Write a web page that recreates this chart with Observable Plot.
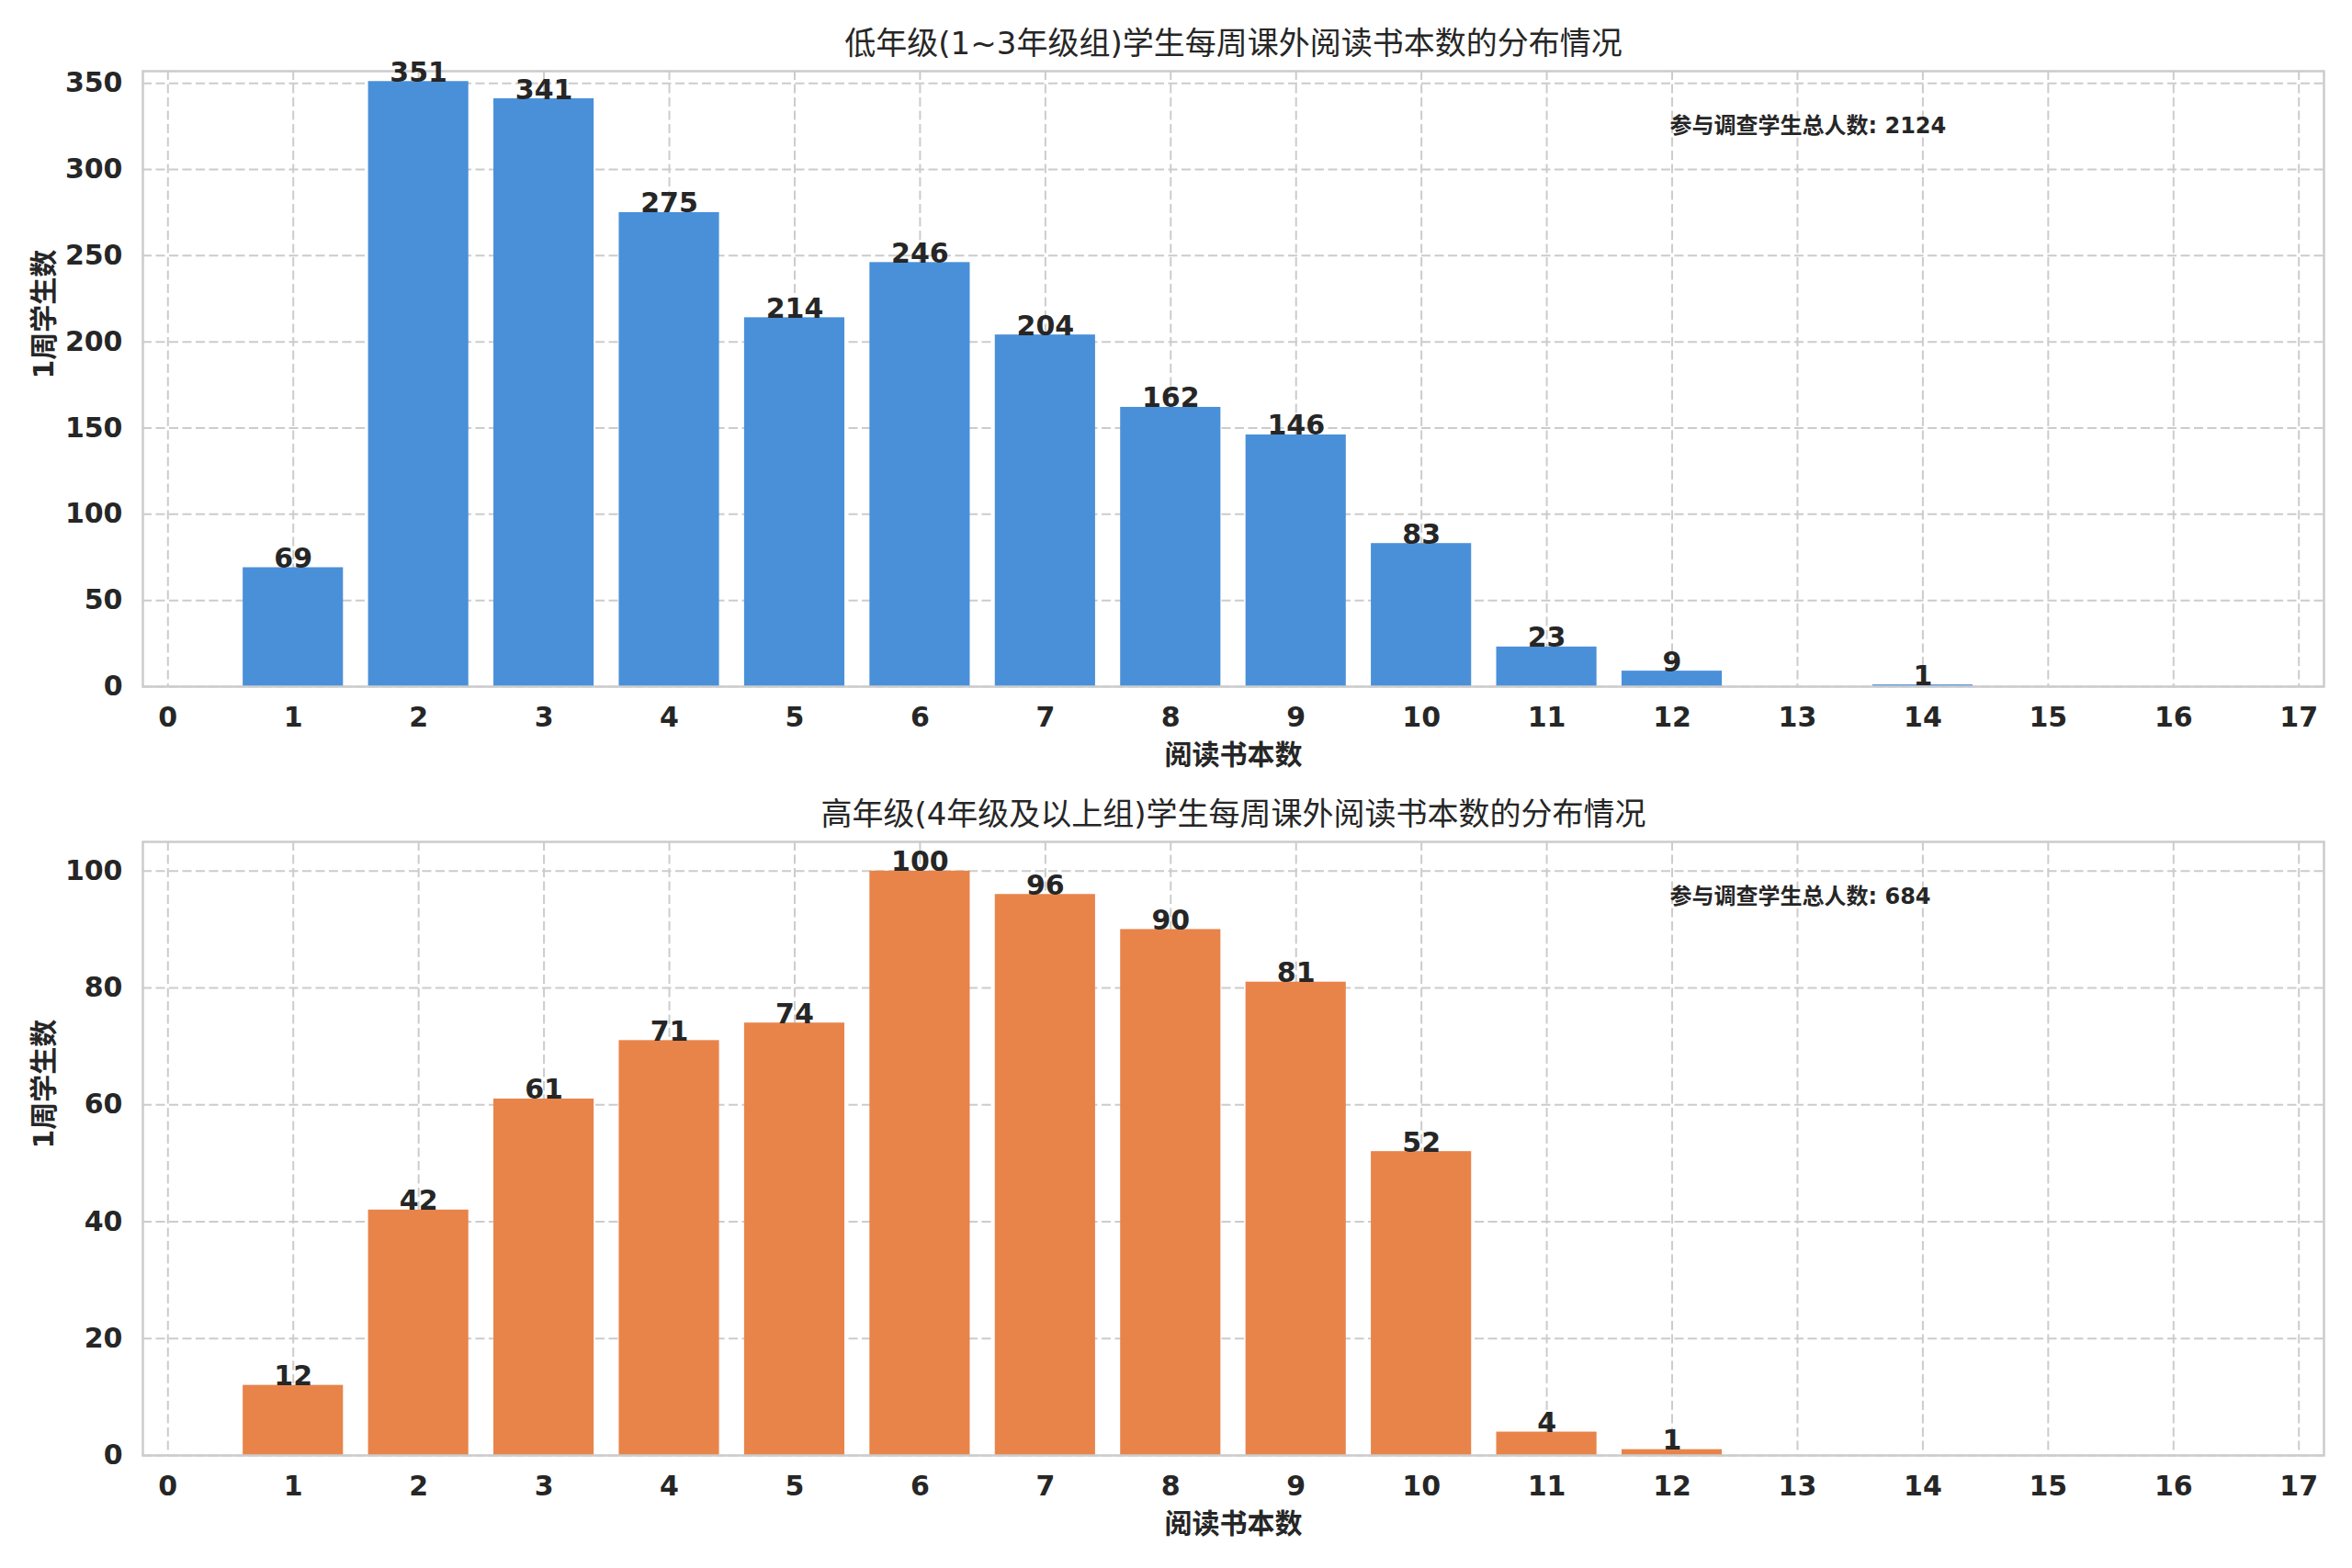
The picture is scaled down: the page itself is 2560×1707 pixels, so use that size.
<!DOCTYPE html>
<html><head><meta charset="utf-8">
<script src="https://cdn.jsdelivr.net/npm/d3@7"></script>
<script src="https://cdn.jsdelivr.net/npm/@observablehq/plot@0.6"></script>
<style>
body{margin:0;background:#fff;}
#wrap{position:relative;width:2560px;height:1707px;background:#fff;overflow:hidden;}
#wrap svg{position:absolute;left:0;}
</style></head><body><div id="wrap"></div>
<script>
// ---- data ----
const lowerCategories = [1, 2, 3, 4, 5, 6, 7, 8, 9, 10, 11, 12, 13, 14];
const lowerValues     = [69, 351, 341, 275, 214, 246, 204, 162, 146, 83, 23, 9, 0, 1];
const upperCategories = [1, 2, 3, 4, 5, 6, 7, 8, 9, 10, 11, 12];
const upperValues     = [12, 42, 61, 71, 74, 100, 96, 90, 81, 52, 4, 1];
const xTickLabels = [0, 1, 2, 3, 4, 5, 6, 7, 8, 9, 10, 11, 12, 13, 14, 15, 16, 17];
const lowerYTicks = [0, 50, 100, 150, 200, 250, 300, 350];
const upperYTicks = [0, 20, 40, 60, 80, 100];
const lowerTitle = "低年级(1~3年级组)学生每周课外阅读书本数的分布情况";
const upperTitle = "高年级(4年级及以上组)学生每周课外阅读书本数的分布情况";
const lowerNote = "参与调查学生总人数: 2124";
const upperNote = "参与调查学生总人数: 684";
const xLabel = "阅读书本数";
const yLabel = "1周学生数";

const FONT = '"DejaVu Sans", "Noto Sans CJK SC", sans-serif';
const INK = "#262626";
const W = 2560, ML = 155, MR = 31;

function chart({cats, vals, color, yDomain, yTicks, title, note, top, height, marginBottom}) {
  const data = cats.map((k, i) => ({k, v: vals[i]}));
  const grid = {stroke: "#cccccc", strokeOpacity: 1, strokeWidth: 2, strokeDasharray: "10,4.5"};
  const svg = Plot.plot({
    width: W, height, marginLeft: ML, marginRight: MR, marginTop: 77, marginBottom,
    style: {background: "transparent", fontFamily: FONT, color: INK, overflow: "visible"},
    x: {type: "linear", domain: [-0.2, 17.2]},
    y: {domain: yDomain},
    marks: [
      Plot.gridX(xTickLabels, grid),
      Plot.gridY(yTicks, grid),
      Plot.rect(data, {x1: d => d.k - 0.4, x2: d => d.k + 0.4, y1: 0, y2: "v", fill: color}),
      Plot.frame({stroke: "#cccccc", strokeWidth: 2.5}),
      Plot.axisX(xTickLabels, {tickSize: 0, tickPadding: 22, fontSize: 30, fontWeight: "bold", fill: INK, label: null, tickFormat: d => String(d)}),
      Plot.axisY(yTicks, {tickSize: 0, tickPadding: 22, fontSize: 30, fontWeight: "bold", fill: INK, label: null, tickFormat: d => String(d)}),
      Plot.text(data.filter(d => d.v > 0), {x: "k", y: "v", text: d => String(d.v), lineAnchor: "bottom", fontSize: 30, fontWeight: "bold", fill: INK}),
      Plot.text([title], {text: d => d, frameAnchor: "top", dy: -29, lineAnchor: "middle", fontSize: 34, fill: INK}),
      Plot.text([note], {text: d => d, frameAnchor: "top-left", dx: Math.round(0.7 * (W - ML - MR)), dy: 60, textAnchor: "start", lineAnchor: "middle", fontSize: 24, fontWeight: "bold", fill: INK}),
      Plot.text([xLabel], {text: d => d, frameAnchor: "bottom", dy: 75, lineAnchor: "middle", fontSize: 30, fontWeight: "bold", fill: INK}),
      Plot.text([yLabel], {text: d => d, frameAnchor: "left", dx: -107, rotate: -90, lineAnchor: "middle", fontSize: 30, fontWeight: "bold", fill: INK})
    ]
  });
  svg.style.top = top + "px";
  document.getElementById("wrap").appendChild(svg);
}

chart({cats: lowerCategories, vals: lowerValues, color: "#4a90d9", yDomain: [0, 357], yTicks: lowerYTicks,
       title: lowerTitle, note: lowerNote, top: 0, height: 837, marginBottom: 90});
chart({cats: upperCategories, vals: upperValues, color: "#e8844a", yDomain: [0, 105], yTicks: upperYTicks,
       title: upperTitle, note: upperNote, top: 839, height: 845, marginBottom: 100});
</script>
</body></html>
